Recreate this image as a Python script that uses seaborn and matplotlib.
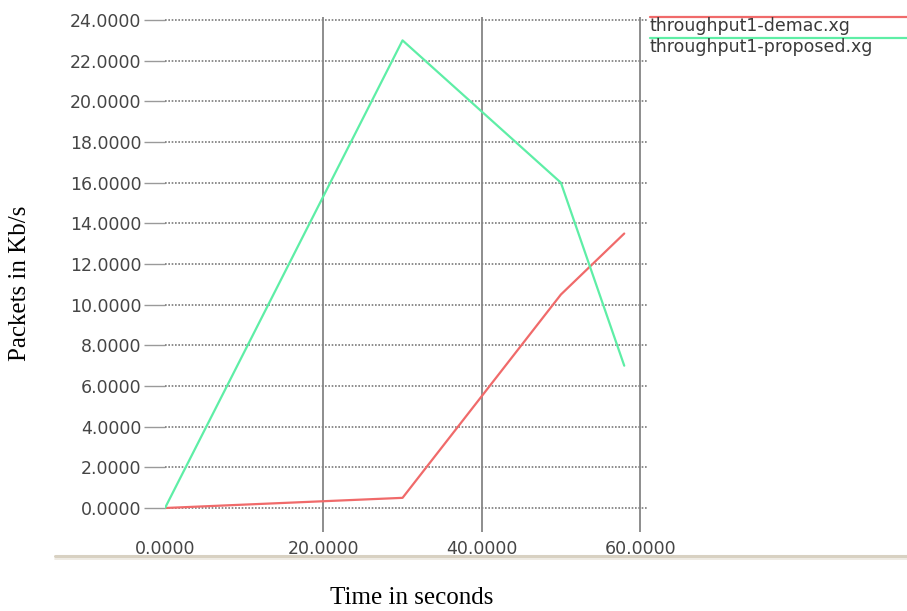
import matplotlib
matplotlib.use("Agg")
import matplotlib.pyplot as plt
from matplotlib.lines import Line2D
import seaborn as sns
import pandas as pd

# ---- data ----
time_s = [0, 30, 50, 58]
demac = [0.0, 0.5, 10.5, 13.5]
proposed = [0.0, 23.0, 16.0, 7.0]
series_names = ["throughput1-demac.xg", "throughput1-proposed.xg"]
series_colors = ["#f06a6a", "#5eeea6"]
x_ticks = [0, 20, 40, 60]
y_ticks = [0, 2, 4, 6, 8, 10, 12, 14, 16, 18, 20, 22, 24]

df = pd.DataFrame({
    "time": time_s * 2,
    "value": demac + proposed,
    "series": [series_names[0]] * len(time_s) + [series_names[1]] * len(time_s),
})

sns.set_style("white")
plt.rcParams["font.family"] = ["DejaVu Sans"]

W, H = 907, 611
fig = plt.figure(figsize=(W / 100, H / 100), dpi=100)
ax = fig.add_axes([165 / W, (H - 532) / H, (648 - 165) / W, (532 - 17) / H])

palette = dict(zip(series_names, series_colors))
sns.lineplot(data=df, x="time", y="value", hue="series", palette=palette,
             linewidth=1.6, ax=ax, legend=False, zorder=3)

ax.set_xlim(0, 61)
ax.set_ylim(-1.18, 24.15)
ax.set_xticks(x_ticks)
ax.set_yticks(y_ticks)
ax.set_xticklabels([f"{v:.4f}" for v in x_ticks])
ax.set_yticklabels([f"{v:.4f}" for v in y_ticks])

for s in ax.spines.values():
    s.set_visible(False)

ax.grid(False)
for yv in y_ticks:
    ax.axhline(yv, color="#7a7a7a", linewidth=1.2, linestyle=(0, (1, 1)), zorder=1)
for xv in x_ticks[1:]:
    ax.axvline(xv, color="#858585", linewidth=1.3, zorder=1)

ax.tick_params(axis="y", which="both", length=15, width=1.0, color="#9a9a9a",
               pad=2, labelsize=12.5, labelcolor="#454545", left=True)
ax.tick_params(axis="x", which="both", length=0, pad=6, labelsize=12.5,
               labelcolor="#454545")
ax.set_xlabel("")
ax.set_ylabel("")

# axis titles (serif, outside the graph window)
fig.text(412 / W, (H - 598) / H, "Time in seconds", family="Liberation Serif",
         fontsize=18, ha="center", va="center", color="black")
fig.text(20 / W, (H - 283) / H, "Packets in Kb/s", family="Liberation Serif",
         fontsize=18, ha="center", va="center", rotation=90, color="black")

# legend in xgraph style: coloured line above each name
leg_y_lines = [17, 38]
leg_y_text = [26, 46.5]
for name, col, yl, yt in zip(series_names, series_colors, leg_y_lines, leg_y_text):
    fig.add_artist(Line2D([650 / W, 1.0], [(H - yl) / H] * 2, color=col,
                          linewidth=1.6, transform=fig.transFigure))
    fig.text(650 / W, (H - yt) / H, name, fontsize=12.5, color="#3a3a3a",
             ha="left", va="center")

# window border line at the bottom of the graph window
fig.add_artist(Line2D([55 / W, 1.0], [(H - 556) / H] * 2, color="#d8d1c2",
                      linewidth=2.2, transform=fig.transFigure))
fig.add_artist(Line2D([55 / W, 1.0], [(H - 558.5) / H] * 2, color="#ece8df",
                      linewidth=1.2, transform=fig.transFigure))

fig.savefig("out.png", dpi=100)
